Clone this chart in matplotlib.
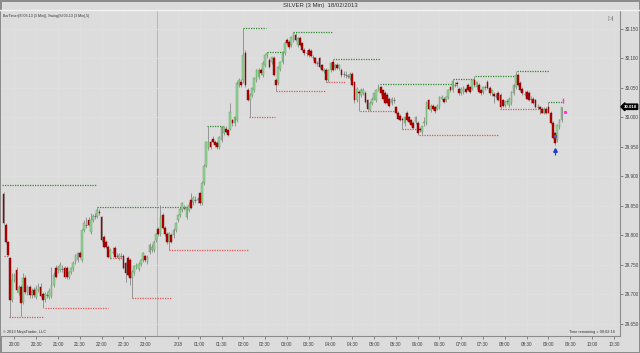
import matplotlib
matplotlib.use("Agg")
import matplotlib.pyplot as plt
import numpy as np

plt.rcParams["font.family"] = ["Liberation Sans", "DejaVu Sans"]

# 3-min SILVER bars, index 0 = first bar on screen
opens = [
    29.870, 29.817, 29.788, 29.761, 29.690, 29.724, 29.741, 29.702, 29.712, 29.687,
    29.728, 29.703, 29.712, 29.698, 29.707, 29.695, 29.707, 29.712, 29.700, 29.692,
    29.698, 29.695, 29.697, 29.715, 29.744, 29.741, 29.741, 29.744, 29.744, 29.744,
    29.729, 29.737, 29.744, 29.754, 29.758, 29.769, 29.758, 29.809, 29.818, 29.826,
    29.805, 29.826, 29.832, 29.832, 29.840, 29.830, 29.797, 29.788, 29.780, 29.763,
    29.773, 29.778, 29.765, 29.761, 29.765, 29.765, 29.752, 29.761, 29.758, 29.728,
    29.737, 29.746, 29.743, 29.751, 29.758, 29.764, 29.755, 29.771, 29.775, 29.775,
    29.792, 29.811, 29.802, 29.834, 29.813, 29.802, 29.788, 29.800, 29.800, 29.809,
    29.826, 29.834, 29.843, 29.847, 29.831, 29.843, 29.860, 29.856, 29.860, 29.859,
    29.871, 29.854, 29.889, 29.918, 29.948, 29.958, 29.964, 29.958, 29.956, 29.949,
    29.961, 29.973, 29.981, 29.978, 29.981, 29.995, 29.990, 29.995, 30.055, 30.060,
    30.063, 30.110, 30.046, 30.029, 30.038, 30.046, 30.063, 30.068, 30.080, 30.072,
    30.089, 30.106, 30.097, 30.094, 30.101, 30.063, 30.058, 30.082, 30.094, 30.109,
    30.131, 30.128, 30.123, 30.131, 30.140, 30.123, 30.135, 30.126, 30.114, 30.110,
    30.114, 30.113, 30.102, 30.100, 30.093, 30.100, 30.089, 30.078, 30.080, 30.063,
    30.080, 30.094, 30.083, 30.089, 30.083, 30.080, 30.074, 30.073, 30.071, 30.066,
    30.074, 30.060, 30.029, 30.043, 30.038, 30.041, 30.041, 30.029, 30.012, 30.024,
    30.032, 30.029, 30.047, 30.051, 30.046, 30.041, 30.038, 30.032, 30.024, 30.030,
    30.017, 30.008, 30.003, 29.997, 29.990, 30.007, 30.000, 29.995, 29.990, 29.992,
    29.990, 29.980, 29.975, 29.990, 29.990, 30.029, 30.012, 30.020, 30.017, 30.015,
    30.017, 30.032, 30.032, 30.029, 30.034, 30.051, 30.046, 30.056, 30.058, 30.049,
    30.041, 30.043, 30.049, 30.055, 30.051, 30.049, 30.063, 30.051, 30.055, 30.046,
    30.043, 30.052, 30.060, 30.050, 30.041, 30.040, 30.037, 30.041, 30.038, 30.029,
    30.021, 30.027, 30.021, 30.024, 30.041, 30.052, 30.072, 30.058, 30.049, 30.041,
    30.043, 30.041, 30.032, 30.032, 30.029, 30.019, 30.017, 30.015, 30.008, 30.015,
    30.017, 30.007, 29.990, 29.973, 29.961, 29.983, 29.995,
]
highs = [
    29.873, 29.821, 29.790, 29.763, 29.735, 29.736, 29.746, 29.716, 29.716, 29.735,
    29.732, 29.716, 29.715, 29.710, 29.712, 29.716, 29.718, 29.719, 29.703, 29.704,
    29.704, 29.710, 29.746, 29.738, 29.750, 29.748, 29.754, 29.750, 29.748, 29.747,
    29.740, 29.746, 29.756, 29.768, 29.772, 29.773, 29.811, 29.825, 29.830, 29.830,
    29.838, 29.836, 29.838, 29.848, 29.845, 29.833, 29.800, 29.792, 29.783, 29.778,
    29.780, 29.782, 29.770, 29.769, 29.770, 29.768, 29.755, 29.764, 29.761, 29.741,
    29.750, 29.753, 29.755, 29.760, 29.771, 29.767, 29.767, 29.786, 29.785, 29.792,
    29.804, 29.814, 29.851, 29.838, 29.816, 29.805, 29.806, 29.804, 29.812, 29.822,
    29.836, 29.848, 29.856, 29.852, 29.850, 29.856, 29.872, 29.866, 29.866, 29.865,
    29.874, 29.892, 29.920, 29.960, 29.985, 29.962, 29.968, 29.962, 29.960, 29.968,
    29.985, 29.986, 29.985, 29.981, 30.024, 29.998, 30.003, 30.061, 30.067, 30.065,
    30.152, 30.114, 30.050, 30.041, 30.052, 30.068, 30.082, 30.083, 30.084, 30.095,
    30.108, 30.111, 30.101, 30.103, 30.104, 30.066, 30.088, 30.096, 30.113, 30.128,
    30.134, 30.131, 30.139, 30.145, 30.143, 30.137, 30.138, 30.128, 30.117, 30.114,
    30.117, 30.116, 30.106, 30.103, 30.096, 30.103, 30.091, 30.083, 30.083, 30.082,
    30.094, 30.099, 30.091, 30.092, 30.091, 30.083, 30.078, 30.078, 30.074, 30.077,
    30.077, 30.062, 30.052, 30.047, 30.050, 30.050, 30.044, 30.032, 30.027, 30.034,
    30.041, 30.049, 30.056, 30.054, 30.049, 30.044, 30.041, 30.035, 30.035, 30.034,
    30.020, 30.011, 30.006, 30.001, 30.002, 30.010, 30.003, 29.998, 29.993, 30.003,
    29.993, 29.983, 29.986, 30.000, 30.027, 30.032, 30.023, 30.023, 30.020, 30.023,
    30.036, 30.038, 30.035, 30.037, 30.048, 30.054, 30.065, 30.060, 30.062, 30.052,
    30.052, 30.054, 30.052, 30.058, 30.054, 30.064, 30.070, 30.062, 30.058, 30.049,
    30.054, 30.055, 30.063, 30.053, 30.049, 30.043, 30.041, 30.044, 30.041, 30.032,
    30.029, 30.031, 30.034, 30.044, 30.056, 30.079, 30.075, 30.061, 30.052, 30.044,
    30.046, 30.044, 30.036, 30.035, 30.032, 30.022, 30.020, 30.018, 30.018, 30.018,
    30.026, 30.010, 29.993, 29.976, 29.989, 29.998, 30.018,
]
lows = [
    29.819, 29.787, 29.765, 29.661, 29.686, 29.720, 29.704, 29.698, 29.662, 29.683,
    29.700, 29.698, 29.694, 29.694, 29.695, 29.692, 29.703, 29.695, 29.676, 29.686,
    29.693, 29.692, 29.694, 29.712, 29.728, 29.735, 29.737, 29.738, 29.727, 29.726,
    29.725, 29.734, 29.740, 29.751, 29.755, 29.762, 29.755, 29.806, 29.812, 29.815,
    29.802, 29.822, 29.828, 29.829, 29.834, 29.788, 29.778, 29.778, 29.762, 29.760,
    29.768, 29.761, 29.761, 29.758, 29.760, 29.742, 29.720, 29.730, 29.715, 29.694,
    29.733, 29.742, 29.740, 29.747, 29.755, 29.755, 29.751, 29.768, 29.771, 29.771,
    29.789, 29.799, 29.799, 29.811, 29.799, 29.785, 29.775, 29.786, 29.796, 29.806,
    29.822, 29.830, 29.839, 29.843, 29.828, 29.840, 29.844, 29.852, 29.855, 29.855,
    29.852, 29.851, 29.886, 29.915, 29.945, 29.947, 29.956, 29.950, 29.946, 29.946,
    29.958, 29.970, 29.974, 29.968, 29.978, 29.986, 29.986, 29.992, 30.051, 30.052,
    30.059, 30.052, 30.027, 30.000, 30.035, 30.043, 30.060, 30.065, 30.072, 30.068,
    30.086, 30.100, 30.083, 30.090, 30.070, 30.045, 30.055, 30.078, 30.090, 30.106,
    30.123, 30.116, 30.119, 30.128, 30.129, 30.119, 30.121, 30.112, 30.106, 30.105,
    30.103, 30.103, 30.097, 30.090, 30.088, 30.084, 30.078, 30.075, 30.060, 30.060,
    30.077, 30.078, 30.080, 30.082, 30.080, 30.069, 30.068, 30.066, 30.067, 30.063,
    30.053, 30.025, 30.026, 30.010, 30.034, 30.038, 30.024, 30.013, 30.011, 30.021,
    30.029, 30.026, 30.044, 30.038, 30.030, 30.022, 30.022, 30.018, 30.021, 30.025,
    30.005, 29.997, 29.993, 29.981, 29.986, 29.993, 29.990, 29.985, 29.980, 29.989,
    29.970, 29.975, 29.972, 29.985, 29.987, 30.012, 30.009, 30.013, 30.008, 30.012,
    30.014, 30.029, 30.024, 30.026, 30.031, 30.043, 30.043, 30.052, 30.052, 30.038,
    30.038, 30.040, 30.041, 30.044, 30.041, 30.046, 30.052, 30.048, 30.041, 30.038,
    30.040, 30.046, 30.048, 30.038, 30.037, 30.024, 30.033, 30.027, 30.015, 30.018,
    30.018, 30.023, 30.018, 30.021, 30.038, 30.049, 30.053, 30.044, 30.038, 30.036,
    30.031, 30.027, 30.025, 30.022, 30.016, 30.014, 30.006, 30.007, 30.005, 30.005,
    30.007, 29.989, 29.963, 29.953, 29.958, 29.980, 29.992,
]
closes = [
    29.821, 29.788, 29.766, 29.690, 29.724, 29.732, 29.707, 29.712, 29.685, 29.728,
    29.703, 29.712, 29.698, 29.705, 29.698, 29.709, 29.712, 29.697, 29.690, 29.700,
    29.699, 29.706, 29.715, 29.732, 29.729, 29.746, 29.749, 29.743, 29.729, 29.729,
    29.737, 29.744, 29.752, 29.766, 29.769, 29.763, 29.809, 29.821, 29.817, 29.817,
    29.826, 29.832, 29.833, 29.842, 29.838, 29.791, 29.780, 29.780, 29.763, 29.775,
    29.772, 29.763, 29.764, 29.766, 29.764, 29.744, 29.735, 29.732, 29.728, 29.737,
    29.747, 29.749, 29.751, 29.758, 29.769, 29.758, 29.763, 29.783, 29.780, 29.788,
    29.802, 29.802, 29.830, 29.813, 29.802, 29.788, 29.804, 29.788, 29.809, 29.821,
    29.834, 29.845, 29.855, 29.846, 29.848, 29.851, 29.846, 29.863, 29.859, 29.861,
    29.854, 29.889, 29.918, 29.958, 29.958, 29.949, 29.958, 29.953, 29.949, 29.966,
    29.983, 29.983, 29.975, 29.970, 30.009, 29.990, 30.000, 30.058, 30.063, 30.055,
    30.106, 30.055, 30.029, 30.038, 30.050, 30.066, 30.080, 30.080, 30.075, 30.092,
    30.106, 30.110, 30.085, 30.102, 30.072, 30.055, 30.085, 30.094, 30.111, 30.126,
    30.126, 30.119, 30.136, 30.143, 30.131, 30.135, 30.123, 30.114, 30.109, 30.110,
    30.106, 30.105, 30.102, 30.092, 30.093, 30.085, 30.080, 30.080, 30.063, 30.080,
    30.092, 30.080, 30.089, 30.083, 30.089, 30.072, 30.074, 30.072, 30.070, 30.074,
    30.055, 30.029, 30.049, 30.041, 30.046, 30.046, 30.026, 30.015, 30.024, 30.032,
    30.041, 30.046, 30.050, 30.041, 30.032, 30.024, 30.024, 30.020, 30.032, 30.029,
    30.007, 29.998, 29.995, 29.995, 30.000, 29.995, 29.992, 29.987, 29.982, 30.000,
    29.973, 29.978, 29.985, 29.992, 30.025, 30.015, 30.020, 30.015, 30.010, 30.020,
    30.034, 30.035, 30.026, 30.034, 30.046, 30.046, 30.061, 30.055, 30.056, 30.041,
    30.049, 30.051, 30.043, 30.046, 30.043, 30.063, 30.055, 30.060, 30.043, 30.041,
    30.051, 30.051, 30.050, 30.041, 30.046, 30.037, 30.036, 30.029, 30.017, 30.020,
    30.026, 30.027, 30.032, 30.043, 30.055, 30.072, 30.055, 30.046, 30.041, 30.040,
    30.032, 30.029, 30.031, 30.024, 30.017, 30.018, 30.015, 30.008, 30.015, 30.007,
    30.008, 29.990, 29.965, 29.957, 29.987, 29.995, 30.018,
]

tick_pos = [5, 15, 25, 35, 45, 55, 65, 80] + list(range(90, 281, 10))
tick_labels = ["20:00", "20:30", "21:00", "21:30", "22:00", "22:30", "23:00", "2/18",
               "01:00", "01:30", "02:00", "02:30", "03:00", "03:30", "04:00", "04:30",
               "05:00", "05:30", "06:00", "06:30", "07:00", "07:30", "08:00", "08:30",
               "09:00", "09:30", "10:00", "10:30"]
price_ticks = [29.65, 29.70, 29.75, 29.80, 29.85, 29.90, 29.95, 30.00, 30.05, 30.10, 30.15]

# swing lines (start bar, end bar, price)
hi_start = [-0.7, 43, 93.5, 110, 121, 133, 151, 172.5, 206, 216.5, 235.5, 250]
hi_end = [42.4, 85.6, 100.7, 120.4, 128.2, 150.7, 172.5, 205.7, 216.3, 235.5, 250.2, 256.6]
hi_price = [29.885, 29.848, 29.985, 30.152, 30.111, 30.145, 30.099, 30.056, 30.065, 30.070, 30.079, 30.026]
lo_start = [0, 2.5, 19, 49, 59, 76, 112.6, 125, 148, 163.5, 182.8, 190.6, 227.8]
lo_end = [2.2, 18.1, 48, 54.4, 77.3, 112.2, 124.5, 147.5, 156.7, 180.5, 191, 226.8, 247.5]
lo_price = [29.765, 29.661, 29.676, 29.761, 29.694, 29.775, 30.000, 30.045, 30.060, 30.010, 29.981, 29.970, 30.015]

session_break = 70.5
last_price = 30.018

BG = "#dcdcdc"
fig = plt.figure(figsize=(6.4, 3.53), dpi=100, facecolor=BG)
fig.patch.set_edgecolor("#8c8c8c")
fig.patch.set_linewidth(1.0)
ax = fig.add_axes([1 / 640, 17 / 353, 619 / 640, 326 / 353], facecolor=BG)

x = np.arange(len(closes))
o = np.array(opens)
h = np.array(highs)
l = np.array(lows)
c = np.array(closes)
up = c - o > 0.0015
dn = o - c > 0.0015
flat = ~(up | dn)

ax.vlines(x, l, h, color="#8a8a8a", lw=0.6, zorder=3)
ax.bar(x[up], (c - o)[up], bottom=o[up], width=0.8, color="#96d496",
       edgecolor="#5f9a5f", linewidth=0.3, zorder=4)
ax.bar(x[dn], (c - o)[dn], bottom=o[dn], width=0.8, color="#b80000",
       edgecolor="#7a0000", linewidth=0.3, zorder=4)
ax.hlines(c[flat], x[flat] - 0.45, x[flat] + 0.45, color="#666666", lw=0.7, zorder=4)

ax.hlines(hi_price, hi_start, hi_end, colors="#2e8b2e", linestyles=(0, (1, 1)), lw=0.9, zorder=2)
ax.hlines(lo_price, lo_start, lo_end, colors="#e05555", linestyles=(0, (1, 1)), lw=0.9, zorder=2)

# swing / timer markers near the last bars
ax.vlines(253, 29.936, 29.945, color="#1f3fd0", lw=0.9, zorder=5)
ax.plot([253], [29.945], marker="^", ms=2.6, color="#1f3fd0", zorder=5)
ax.plot([253], [29.969], marker="s", ms=1.4, color="#5a5ab0", zorder=5)
ax.vlines(256.8, 30.024, 30.033, color="#ff33cc", lw=1.0, zorder=5)
ax.plot([257.6], [30.009], marker="s", ms=1.2, color="#ff33cc", zorder=5)

ax.axvline(session_break, color="#b0b0b0", lw=0.6, zorder=1)

ax.set_xlim(-1.15, 282.8)
ax.set_ylim(29.6288, 30.1823)

ax.set_xticks(tick_pos)
ax.set_xticklabels(tick_labels)
ax.yaxis.tick_right()
ax.set_yticks(price_ticks)
ax.set_yticklabels([f"{v:.3f}" for v in price_ticks])
ax.tick_params(axis="both", length=2, width=0.5, color="#606060", labelsize=3.3,
               labelcolor="#404040")
ax.tick_params(axis="x", pad=2)
ax.tick_params(axis="y", pad=1.5)
ax.grid(True, color="#e1e1e1", lw=0.5, zorder=0)

for s in ["left", "top"]:
    ax.spines[s].set_visible(False)
for s in ["right", "bottom"]:
    ax.spines[s].set_color("#8c8c8c")
    ax.spines[s].set_linewidth(0.8)

fig.add_artist(plt.Line2D([0, 1], [1 - 10 / 353] * 2, color="#f2f2f2", lw=1.0))
fig.text(0.5, 1 - 5 / 353, "SILVER (3 Min)  18/02/2013", ha="center", va="center",
         fontsize=4.3, color="#303030")

ax.text(0.003, 0.988, "BarTimer(SI 03-13 (3 Min)), Swing(SI 03-13 (3 Min),5)",
        transform=ax.transAxes, ha="left", va="top", fontsize=2.6, color="#303030")
ax.text(0.003, 0.006, "\u00a9 2013 NinjaTrader, LLC", transform=ax.transAxes,
        ha="left", va="bottom", fontsize=2.8, color="#303030")
ax.text(0.992, 0.006, "Time remaining = 00:02:16", transform=ax.transAxes,
        ha="right", va="bottom", fontsize=2.8, color="#303030")
ax.text(0.985, 0.975, "\u25b7|", transform=ax.transAxes, ha="center", va="center",
        fontsize=4.5, color="#707070")

ax.text(1.006, last_price, f"{last_price:.3f}", transform=ax.get_yaxis_transform(),
        ha="left", va="center", fontsize=3.2, color="white", fontweight="bold",
        bbox=dict(boxstyle="larrow,pad=0.15", fc="black", ec="black"), clip_on=False)

fig.savefig("out.png", dpi=100, facecolor=BG, edgecolor=fig.get_edgecolor())
